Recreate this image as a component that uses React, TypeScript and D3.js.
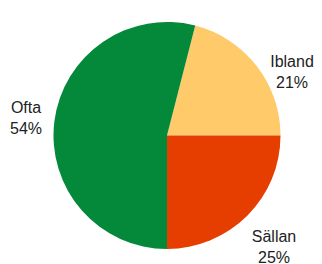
import React from "react";
import * as d3 from "d3";

const categories = ["Ibland", "Sällan", "Ofta"];
const values = [21, 25, 54];
const colors = ["#FFCA6A", "#E63E00", "#04893A"];
const labelPos = [
  { x: 292, y: 67 },
  { x: 274, y: 242 },
  { x: 26, y: 113 },
];

export default function App() {
  const W = 322, H = 264;
  const cx = 167, cy = 135.5, r = 113.5;
  const start = Math.PI / 2 - (values[0] / 100) * 2 * Math.PI;
  const pie = d3.pie<number>().sort(null).value((d) => d)
    .startAngle(start).endAngle(start + 2 * Math.PI);
  const arcs = pie(values);
  const arc = d3.arc<d3.PieArcDatum<number>>().innerRadius(0).outerRadius(r);
  return (
    <svg width={W} height={H} style={{ position: "absolute", left: 0, top: 0 }}>
      <rect width={W} height={H} fill="#fff" />
      <g transform={`translate(${cx},${cy})`}>
        {arcs.map((a, i) => (
          <path key={i} d={arc(a) || ""} fill={colors[i]} />
        ))}
      </g>
      {categories.map((c, i) => (
        <text key={c} x={labelPos[i].x} y={labelPos[i].y} textAnchor="middle"
          fontFamily="Liberation Sans, Arial, sans-serif" fontSize={16} fill="#222">
          <tspan x={labelPos[i].x}>{c}</tspan>
          <tspan x={labelPos[i].x} dy={21}>{values[i]}%</tspan>
        </text>
      ))}
    </svg>
  );
}
